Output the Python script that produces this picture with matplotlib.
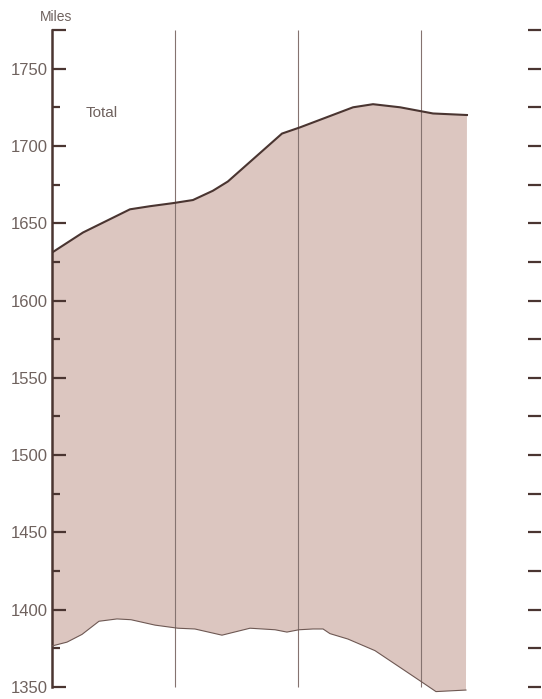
import numpy as np
import matplotlib.pyplot as plt
from matplotlib.ticker import FixedLocator


# upper boundary ("Total"), x in time units, y in miles
top_x = [0, 1.26, 3.17, 3.98, 4.92, 5.73, 6.54, 7.15, 9.35, 10.08, 12.24, 13.05, 14.15, 15.49, 16.87]
top_y = [1631, 1644, 1659, 1661, 1663, 1665, 1671, 1677, 1708, 1712, 1725, 1727, 1725, 1721, 1720]

# lower boundary
low_x = [0, 0.61, 1.22, 1.91, 2.64, 3.21, 4.19, 5.12, 5.81, 6.91, 8.05, 9.07, 9.55, 10.04,
         10.61, 11.02, 11.3, 12.03, 13.13, 14.07, 14.96, 15.61, 16.83]
low_y = [1376.5, 1379, 1384, 1392.5, 1394, 1393.5, 1390, 1388, 1387.5, 1383.5, 1388, 1387,
         1385.5, 1387, 1387.5, 1387.5, 1384.5, 1381, 1373.5, 1363.5, 1354, 1347, 1348]

grid_x = [5, 10, 15]
yticks = [1350, 1400, 1450, 1500, 1550, 1600, 1650, 1700, 1750]
yminor = [1375, 1425, 1475, 1525, 1575, 1625, 1675, 1725]

FILL = '#dcc6c0'
DARK = '#4a3531'
TXT = '#6f625e'

plt.rcParams['font.family'] = ['Liberation Sans', 'DejaVu Sans']

fig = plt.figure(figsize=(5.42, 6.99), dpi=100)
ax = fig.add_axes([52 / 542, 2 / 699, 489 / 542, 667 / 699])
ax.set_xlim(0, 19.88)
ax.set_ylim(1343.5, 1775)

# shaded band between the two boundaries
ax.fill(top_x + low_x[::-1], top_y + low_y[::-1], color=FILL, lw=0, zorder=1)
ax.plot(top_x, top_y, color=DARK, lw=1.5, zorder=3)
ax.plot(low_x, low_y, color='#6e5853', lw=0.8, zorder=3)

ax.vlines(grid_x, 1350, 1775, color='#857370', lw=0.8, zorder=2)

for s in ['top', 'right', 'bottom']:
    ax.spines[s].set_visible(False)
ax.spines['left'].set_bounds(1350, 1775)
ax.spines['left'].set_color(DARK)
ax.spines['left'].set_linewidth(1.8)

ax.set_xticks([])
ax.yaxis.set_major_locator(FixedLocator(yticks + [1775]))
ax.yaxis.set_minor_locator(FixedLocator(yminor))
ax.set_yticklabels([str(v) for v in yticks] + [''])
ax.tick_params(axis='y', which='major', direction='in', length=10, width=1.6,
               color=DARK, labelcolor=TXT, labelsize=12, pad=3)
ax.tick_params(axis='y', which='minor', direction='in', length=6, width=1.6, color=DARK)

# right-hand ticks, every 25 miles
ax2 = ax.twinx()
ax2.set_ylim(ax.get_ylim())
for s in ax2.spines.values():
    s.set_visible(False)
ax2.set_yticks(list(range(1350, 1776, 25)))
ax2.tick_params(axis='y', direction='in', length=9.5, width=1.6, color=DARK,
                labelright=False)

ax.text(1.35, 1721.5, 'Total', color=TXT, fontsize=11, va='center', ha='left')
fig.text(56 / 542, 1 - 17 / 699, 'Miles', color=TXT, fontsize=10, ha='center', va='center')

fig.savefig('out.png', dpi=100)
